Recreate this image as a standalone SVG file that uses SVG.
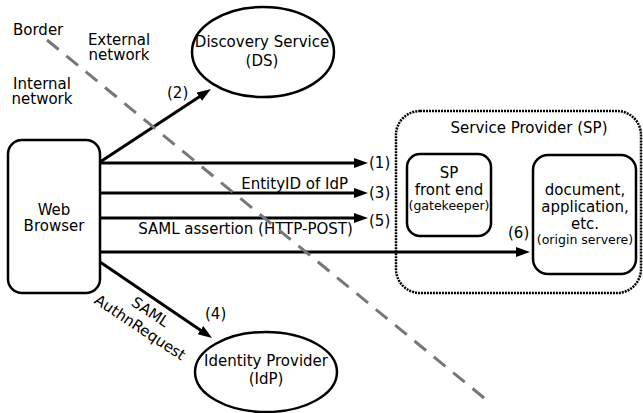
<svg xmlns="http://www.w3.org/2000/svg" width="643" height="413" viewBox="0 0 643 413">
<style>
text{font-family:"DejaVu Sans","Liberation Sans",sans-serif;font-size:15px;fill:#000}
.c{text-anchor:middle}
.e{text-anchor:end}
.s{font-size:12.5px}
.node{fill:#fff;stroke:#000;stroke-width:2.5}
.arr{stroke:#000;stroke-width:3;fill:none;marker-end:url(#ah)}
</style>
<defs>
<marker id="ah" markerUnits="userSpaceOnUse" markerWidth="16" markerHeight="12" refX="6" refY="5" orient="auto">
<path d="M0,0 L14,5 L0,10 z" fill="#000"/>
</marker>
</defs>
<rect width="643" height="413" fill="#fff"/>
<g id="labels">
<text x="13" y="35">Border</text>
<text class="c" x="119" y="45">External</text>
<text class="c" x="119" y="60">network</text>
<text class="c" x="42" y="89">Internal</text>
<text class="c" x="42" y="104">network</text>
</g>
<g id="sp">
<rect x="396" y="111" width="245" height="182" rx="24" fill="none" stroke="#000" stroke-width="2.5" stroke-dasharray="2 1"/>
<text class="c" x="529" y="133">Service Provider (SP)</text>
</g>
<g id="spfront">
<rect class="node" x="407" y="154" width="84" height="82" rx="13"/>
<text class="c" x="449" y="178">SP</text>
<text class="c" x="449" y="195">front end</text>
<text class="c s" x="449" y="210">(gatekeeper)</text>
</g>
<g id="origin">
<rect class="node" x="533" y="155" width="103" height="119" rx="15"/>
<text class="c" x="585" y="195">document,</text>
<text class="c" x="585" y="212">application,</text>
<text class="c" x="585" y="229">etc.</text>
<text class="c s" x="585" y="244">(origin servere)</text>
</g>
<g id="browser">
<rect class="node" x="8" y="140" width="92" height="153" rx="14"/>
<text class="c" x="54" y="215">Web</text>
<text class="c" x="54" y="231">Browser</text>
</g>
<g id="ds">
<ellipse class="node" cx="263" cy="52" rx="71" ry="45"/>
<text class="c" x="262" y="47">Discovery Service</text>
<text class="c" x="262" y="66">(DS)</text>
</g>
<g id="idp">
<ellipse class="node" cx="266" cy="372" rx="71" ry="40"/>
<text class="c" x="266" y="366">Identity Provider</text>
<text class="c" x="266" y="384">(IdP)</text>
</g>
<g id="connectors">
<line class="arr" x1="100" y1="163" x2="360" y2="163"/>
<line class="arr" x1="100" y1="162" x2="204.3" y2="93.4"/>
<line class="arr" x1="100" y1="193" x2="360" y2="193"/>
<line class="arr" x1="100" y1="262" x2="205.4" y2="333.5"/>
<line class="arr" x1="100" y1="218" x2="360" y2="218"/>
<line class="arr" x1="100" y1="252" x2="522" y2="252"/>
<text x="369" y="168">(1)</text>
<text x="167" y="98">(2)</text>
<text x="369" y="198">(3)</text>
<text class="e" x="348" y="189">EntityID of IdP</text>
<text x="205" y="319">(4)</text>
<g transform="translate(145,320) rotate(33.6)">
<text class="c" x="0" y="-4.5">SAML</text>
<text class="c" x="0" y="14">AuthnRequest</text>
</g>
<text x="369" y="226">(5)</text>
<text class="c" x="245.5" y="234">SAML assertion (HTTP-POST)</text>
<text x="508" y="238">(6)</text>
</g>
<g id="border">
<line x1="47" y1="40" x2="489" y2="402" stroke="#777" stroke-width="3" stroke-dasharray="15 10"/>
</g>
</svg>
